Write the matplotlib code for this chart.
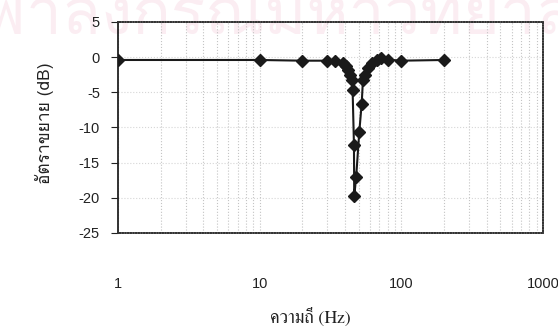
import numpy as np
import matplotlib
matplotlib.use('Agg')
import matplotlib.pyplot as plt
from matplotlib import font_manager
from matplotlib.ft2font import FT2Font

# frequency response of the notch
freq = [1, 10, 20, 30, 34, 38.5, 41, 42.2, 43.4, 44.6, 45.3, 46.3, 46.5, 48,
        50.5, 52.5, 53.6, 55.1, 58.3, 61.8, 66.8, 72.3, 80.8, 100, 200]
gain = [-0.4, -0.4, -0.5, -0.5, -0.6, -0.8, -1.3, -1.8, -2.5, -3.2, -4.7, -12.5,
        -19.8, -17.0, -10.6, -6.6, -3.2, -2.5, -1.5, -0.8, -0.35, -0.1, -0.35,
        -0.5, -0.4]

xticks = [1, 10, 100, 1000]
yticks = [5, 0, -5, -10, -15, -20, -25]
xlabel = 'ความถี่ (Hz)'
ylabel = 'อัตราขยาย (dB)'
watermark = 'จุฬาลงกรณ์มหาวิทยาลัย'


def thai_fonts():
    # look for installed fonts that actually carry Thai glyphs
    found = []
    for f in font_manager.fontManager.ttflist:
        try:
            if FT2Font(f.fname).get_char_index(ord('ค')):
                found.append(f.name)
        except Exception:
            pass
    return found


th = thai_fonts()
th_serif = [n for n in th if 'Serif' in n or 'Norasi' in n]
th_sans = [n for n in th if n not in th_serif]
serif_fam = (th_serif or th_sans)[:1] + ['Liberation Serif', 'DejaVu Serif']
sans_fam = (th_sans or th_serif)[:1] + ['Liberation Sans', 'DejaVu Sans']

plt.rcParams['font.family'] = ['Liberation Sans', 'DejaVu Sans']

fig = plt.figure(figsize=(5.58, 3.33), dpi=100)
ax = fig.add_axes([118 / 558, 1 - 233 / 333, 425 / 558, 211 / 333])
ax.set_zorder(2)
ax.set_facecolor('none')

# faint library watermark across the top of the scan
fig.text(0.5, 0.975, watermark, fontsize=46, color='#fbedf2', ha='center',
         va='center', family=sans_fam, zorder=0)

ax.plot(freq, gain, color='#1a1a1a', lw=1.5, marker='D', markersize=6.5,
        markerfacecolor='#1a1a1a', markeredgecolor='#1a1a1a', zorder=3)

ax.set_xscale('log')
ax.set_xlim(1, 1000)
ax.set_ylim(-25, 5)
ax.set_xticks(xticks)
ax.set_xticklabels([str(t) for t in xticks])
ax.set_yticks(yticks)
ax.set_yticklabels([str(t) for t in yticks])

ax.grid(True, which='both', axis='x', color='#c4c4c4', ls=':', lw=0.8)
ax.grid(True, which='major', axis='y', color='#d6d6d6', ls=':', lw=0.8)

ax.tick_params(axis='x', which='both', length=0, pad=32, labelsize=10.5,
               colors='#222222')
ax.tick_params(axis='y', length=5, pad=8, labelsize=10.5, colors='#222222',
               direction='out')

for side in ['top', 'right', 'bottom']:
    ax.spines[side].set_linestyle((0, (1, 0.6)))
    ax.spines[side].set_color('#333333')
    ax.spines[side].set_linewidth(1.2)
ax.spines['left'].set_color('#222222')
ax.spines['left'].set_linewidth(1.3)

ax.set_xlabel(xlabel, fontsize=13, family=serif_fam, color='#222222')
ax.xaxis.set_label_coords((310 - 118) / 425, -(318 - 233) / 211 + 0.05)
ax.set_ylabel(ylabel, fontsize=12.5, family=sans_fam, color='#222222')
ax.yaxis.set_label_coords(-(118 - 54) / 425, 0.52)

plt.savefig('out.png', dpi=100)
